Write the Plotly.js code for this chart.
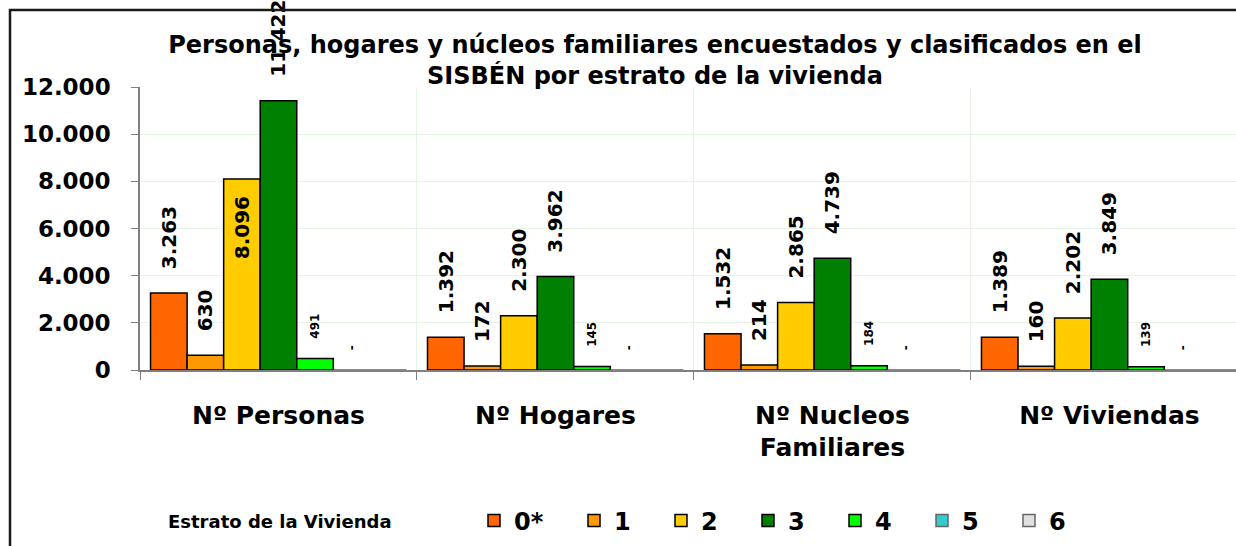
<!DOCTYPE html>
<html><head><meta charset="utf-8">
<script src="https://cdn.plot.ly/plotly-3.0.1.min.js"></script>
<style>html,body{margin:0;padding:0;background:#fff}</style>
</head><body><div id="chart" style="width:1236px;height:546px"></div>
<script>
// ---- data ----
const categories = ['Nº Personas', 'Nº Hogares', 'Nº Nucleos<br>Familiares', 'Nº Viviendas'];
const estratos = ['0*', '1', '2', '3', '4', '5', '6'];
const estrato0 = [3263, 1392, 1532, 1389];
const estrato1 = [630, 172, 214, 160];
const estrato2 = [8096, 2300, 2865, 2202];
const estrato3 = [11422, 3962, 4739, 3849];
const estrato4 = [491, 145, 184, 139];
const estrato5 = [0, 0, 0, 0];
const estrato6 = [0, 0, 0, 0];
const yTickValues = [0, 2000, 4000, 6000, 8000, 10000, 12000];
const titleText = 'Personas, hogares y núcleos familiares encuestados y clasificados en el<br>SISBÉN por estrato de la vivienda';
const legendTitle = 'Estrato de la Vivienda';

// ---- styling ----
const FONT = 'DejaVu Sans';
const colors = ['#FF6600', '#FF9900', '#FFCC00', '#008000', '#00FF00', '#33CCCC', '#E0E0E0'];
const series = [estrato0, estrato1, estrato2, estrato3, estrato4, estrato5, estrato6];
const NB = '\u00a0';

function fmt(v) {
  if (v === 0) return '-';
  return String(v).replace(/\B(?=(\d{3})+(?!\d))/g, '.');
}

const traces = series.map((vals, i) => {
  const small = i >= 4;
  const showLabels = i <= 5;
  const positions = vals.map((v, j) => (i === 2 && j === 0) ? 'inside' : 'outside');
  const texts = vals.map((v, j) => {
    if (!showLabels) return '';
    if (positions[j] === 'inside') return fmt(v) + NB + NB;
    return (small ? NB + NB + NB + NB : NB + NB + NB) + fmt(v);
  });
  return {
    type: 'bar',
    name: estratos[i],
    x: categories,
    y: vals,
    text: texts,
    textposition: positions,
    insidetextanchor: 'end',
    textangle: -90,
    constraintext: 'none',
    cliponaxis: false,
    textfont: {family: FONT, size: small ? 12 : 20, weight: 'bold', color: '#000'},
    insidetextfont: {family: FONT, size: 20, weight: 'bold', color: '#000'},
    outsidetextfont: {family: FONT, size: small ? 12 : 20, weight: 'bold', color: '#000'},
    marker: {color: colors[i], line: {color: vals.map(v => v === 0 ? '#666666' : '#000000'), width: 1.5}},
    legendwidth: i === 0 ? 55 : 42,
    hoverinfo: 'x+y+name'
  };
});

// plot area: x 140..1236, y 87..370
const L = 140, T = 87, W = 1236, H = 546, PB = 370;
const pw = W - L, ph = PB - T;
const px = x => (x - L) / pw;
const py = y => (PB - y) / ph;

const layout = {
  width: W, height: H,
  margin: {l: L, r: 0, t: T, b: H - PB, autoexpand: false},
  paper_bgcolor: '#fff', plot_bgcolor: '#fff',
  separators: ',.',
  barmode: 'group', bargap: 0.076, bargroupgap: 0,
  font: {family: FONT, color: '#000'},
  title: {
    text: titleText,
    font: {family: FONT, size: 24, weight: 'bold', color: '#000'},
    xref: 'container', x: 655 / W, xanchor: 'center',
    yref: 'container', y: 1 - 53 / H, yanchor: 'top'
  },
  xaxis: {
    type: 'category', categoryorder: 'array', categoryarray: categories,
    range: [-0.5, 3.457],
    tickson: 'boundaries', ticks: 'outside', ticklen: 8, tickcolor: '#808080', tickwidth: 1,
    showline: true, linecolor: '#808080', linewidth: 1.5,
    showgrid: true, gridcolor: '#e6f5e6', gridwidth: 1,
    tickfont: {family: FONT, size: 25, weight: 'bold', color: '#000'},
    ticklabelstandoff: 22,
    fixedrange: true
  },
  yaxis: {
    range: [0, 12000], tickvals: yTickValues, tickformat: ',',
    ticks: 'outside', ticklen: 7, tickcolor: '#808080',
    showline: true, linecolor: '#808080', linewidth: 1.5,
    showgrid: true, gridcolor: '#e6f5e6', gridwidth: 1,
    zeroline: false,
    tickfont: {family: FONT, size: 23, weight: 'bold', color: '#000'},
    ticklabelstandoff: 16,
    fixedrange: true
  },
  showlegend: true,
  legend: {
    orientation: 'h',
    xref: 'container', yref: 'container',
    x: 474 / W, xanchor: 'left',
    y: 25 / H, yanchor: 'middle',
    font: {family: FONT, size: 24, weight: 'bold', color: '#000'},
    bgcolor: 'rgba(0,0,0,0)', traceorder: 'normal'
  },
  annotations: [{
    text: legendTitle, showarrow: false,
    xref: 'paper', yref: 'paper', x: px(280), y: py(521),
    xanchor: 'center', yanchor: 'middle',
    font: {family: FONT, size: 18, weight: 'bold', color: '#000'}
  }],
  shapes: [{
    type: 'path', xref: 'paper', yref: 'paper',
    path: 'M ' + px(10) + ' ' + py(560) + ' L ' + px(10) + ' ' + py(10) + ' L ' + px(1240) + ' ' + py(10),
    line: {color: '#1a1a1a', width: 2.5}, layer: 'above'
  }]
};

Plotly.newPlot('chart', traces, layout, {displayModeBar: false, staticPlot: false});
</script>
</body></html>
